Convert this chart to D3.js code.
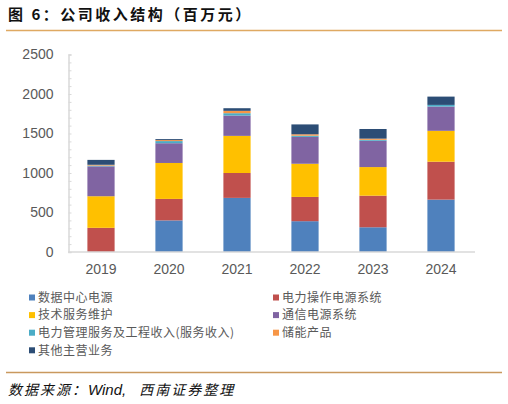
<!DOCTYPE html>
<html><head><meta charset="utf-8">
<script src="https://cdn.jsdelivr.net/npm/d3@7"></script>
<style>
html,body{margin:0;padding:0;background:#fff;}
svg{display:block;}
</style></head>
<body>
<svg id="c" width="508" height="404"></svg>
<script>
const categories = ['2019','2020','2021','2022','2023','2024'];
const dataCenter  = [0, 400, 685, 390, 313, 663];
const powerOp     = [306, 272, 315, 307, 400, 480];
const techService = [400, 455, 470, 420, 362, 391];
const telecom     = [378, 250, 257, 340, 333, 307];
const powerMgmt   = [10, 27, 30, 15, 12, 21];
const storage     = [10, 13, 30, 18, 15, 0];
const other       = [62, 12, 33, 125, 122, 105];
const seriesNames = ['数据中心电源','电力操作电源系统','技术服务维护','通信电源系统','电力管理服务及工程收入(服务收入)','储能产品','其他主营业务'];
const seriesValues = [dataCenter, powerOp, techService, telecom, powerMgmt, storage, other];
const colors = ['#4F81BD','#C0504D','#FFC000','#8064A2','#4BACC6','#F79646','#2C4D75'];
const yTicks = [0,500,1000,1500,2000,2500];

const svg = d3.select('#c');
const font = '"Liberation Sans", Arial, "Noto Sans CJK SC", sans-serif';
const cjk = '"Noto Sans CJK SC", "Liberation Sans", sans-serif';

// title
svg.append('text').attr('x',8).attr('y',20)
  .attr('font-family',cjk).attr('font-weight','bold').attr('font-size',15)
  .attr('letter-spacing','2.5px').attr('fill','#111')
  .text('图 6：公司收入结构（百万元）');
svg.append('line').attr('x1',6).attr('x2',502).attr('y1',30.5).attr('y2',30.5)
  .attr('stroke','#DFA962').attr('stroke-width',1.5);

const x = d3.scaleBand().domain(categories).range([67,475]).paddingInner(0.6).paddingOuter(0.3);
const y = d3.scaleLinear().domain([0,2500]).range([252,54.5]);

// table for stacking
const table = categories.map((c,i)=>{
  const o = {cat:c};
  seriesNames.forEach((n,j)=>{ o[n]=seriesValues[j][i]; });
  return o;
});
const stacked = d3.stack().keys(seriesNames)(table);

const g = svg.append('g');
stacked.forEach((layer,j)=>{
  g.selectAll(null).data(layer).enter().append('rect')
    .attr('x',d=>x(d.data.cat))
    .attr('width',x.bandwidth())
    .attr('y',d=>y(d[1]))
    .attr('height',d=>Math.max(0,y(d[0])-y(d[1])))
    .attr('fill',colors[j]);
});

// y axis
const yAxis = d3.axisRight(y).tickValues(d3.range(0,2501,100)).tickSize(3).tickFormat('');
const ya = svg.append('g').attr('transform','translate(68.5,0)').call(yAxis);
ya.select('.domain').attr('stroke','#D9D9D9').attr('stroke-width',1.5);
ya.selectAll('.tick line').attr('stroke','#D9D9D9');
const yl = d3.axisLeft(y).tickValues(yTicks).tickSize(0).tickPadding(15).tickFormat(d3.format('d'));
const yla = svg.append('g').attr('transform','translate(68.5,0)').call(yl);
yla.select('.domain').remove();
yla.selectAll('text').attr('font-family',font).attr('font-size',14).attr('fill','#595959');

// x axis
const xAxis = d3.axisBottom(x).tickSize(0).tickPadding(12);
const xa = svg.append('g').attr('transform','translate(0,252)').call(xAxis);
xa.select('.domain').attr('d','M68,0H475').attr('stroke','#D9D9D9').attr('stroke-width',1.5);
xa.selectAll('text').attr('font-family',font).attr('font-size',14).attr('fill','#595959');

// legend
const lg = svg.append('g');
seriesNames.forEach((n,j)=>{
  const col = j%2, row = Math.floor(j/2);
  const lx = col===0 ? 29 : 273;
  const ly = 297.5 + row*17.6;
  lg.append('rect').attr('x',lx).attr('y',ly-3).attr('width',6).attr('height',6).attr('fill',colors[j]);
  lg.append('text').attr('x',lx+9).attr('y',ly).attr('dy','0.36em')
    .attr('font-family',cjk).attr('font-size',12).attr('letter-spacing','0.5px')
    .attr('fill','#595959').text(n);
});

svg.append('line').attr('x1',6).attr('x2',502).attr('y1',372.5).attr('y2',372.5)
  .attr('stroke','#C9995E').attr('stroke-width',1.5);
const src = svg.append('text').attr('x',8).attr('y',395)
  .attr('font-family',cjk).attr('font-style','italic').attr('font-size',14).attr('fill','#111');
src.append('tspan').attr('letter-spacing','2px').text('数据来源：');
src.append('tspan').attr('font-family',font).attr('font-size',15).text('Wind,');
src.append('tspan').attr('dx',13).attr('letter-spacing','2px').text('西南证券整理');
</script>
</body></html>
